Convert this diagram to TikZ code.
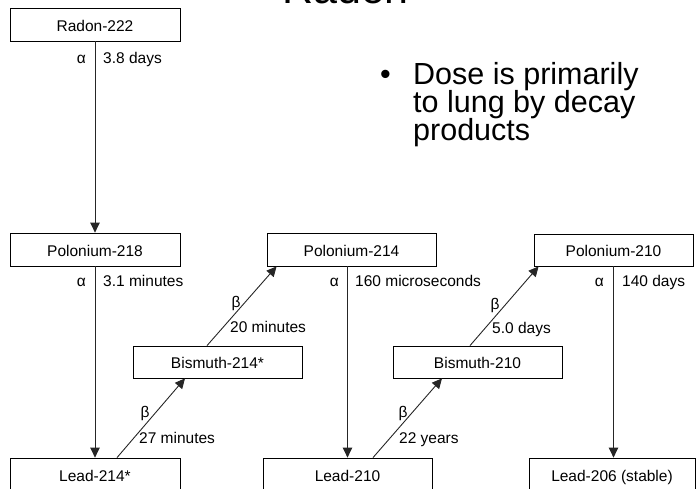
\documentclass[tikz,border=0pt]{standalone}
\usepackage{fontspec}
\setmainfont{Liberation Sans}
\usetikzlibrary{arrows.meta}
\begin{document}
\begin{tikzpicture}[x=1pt,y=-1pt,
  box/.style={draw=black,line width=0.8pt,minimum width=170pt,minimum height=33pt,inner sep=0pt,
    text height=13.5pt,text depth=0.3pt,font=\fontsize{15.5}{18}\selectfont},
  lbl/.style={inner sep=0pt,font=\fontsize{15.5}{18}\selectfont},
  decay/.style={draw=black!85,line width=0.9pt,-{Triangle[length=10pt,width=9.5pt]}},
  big/.style={inner sep=0pt,font=\fontsize{30.5}{28}\selectfont}]
\useasboundingbox (0,0) rectangle (696,489);
% title (cut off at top)
\node[inner sep=0pt,anchor=base west,font=\fontsize{43}{48}\selectfont] (title) at (282,4) {Radon};
% bullet
\node[big,anchor=base west] (bul) at (380,85) {•};
\node[big,anchor=base west] (t1) at (413,85) {Dose is primarily};
\node[big,anchor=base west] (t2) at (413,113) {to lung by decay};
\node[big,anchor=base west] (t3) at (413,140.5) {products};
% boxes
\node[box] (rn222) at (95,24.5) {Radon-222};
\node[box] (po218) at (95,249.5) {Polonium-218};
\node[box,minimum width=169pt] (po214) at (351.5,249.5) {Polonium-214};
\node[box,minimum width=159pt,minimum height=32pt] (po210) at (613.5,250) {Polonium-210};
\node[box,minimum width=169pt,minimum height=32pt] (bi214) at (217.5,362) {Bismuth-214*};
\node[box,minimum width=169pt,minimum height=32pt] (bi210) at (477.5,362) {Bismuth-210};
\node[box] (pb214) at (95,474.5) {Lead-214*};
\node[box,minimum width=169pt] (pb210) at (347.5,474.5) {Lead-210};
\node[box,minimum width=166pt] (pb206) at (612,474.5) {Lead-206 (stable)};
% vertical alpha decays
\draw[decay] (rn222.south) -- (po218.north);
\draw[decay] (po218.south) -- (pb214.north);
\draw[decay] (pb210.north |- po214.south) -- (pb210.north);
\draw[decay] (po210.south) -- (po210.south |- pb206.north);
% diagonal beta decays
\draw[decay] ([xshift=22pt]pb214.north) -- ([xshift=-32.5pt]bi214.south);
\draw[decay] ([xshift=-10.5pt]bi214.north) -- ([xshift=10pt]po214.south west);
\draw[decay] ([xshift=25.5pt]pb210.north) -- ([xshift=-35.5pt]bi210.south);
\draw[decay] ([xshift=-7.5pt]bi210.north) -- ([xshift=5pt]po210.south west);
% labels
\node[lbl,anchor=base east] (a1) at (86,63.5) {α};
\node[lbl,anchor=base west] (h1) at (103,63.5) {3.8 days};
\node[lbl,anchor=base east] (a2) at (86,286.5) {α};
\node[lbl,anchor=base west] (h2) at (103,286.5) {3.1 minutes};
\node[lbl,anchor=base east] (a3) at (339,286.5) {α};
\node[lbl,anchor=base west] (h3) at (355,286.5) {160 microseconds};
\node[lbl,anchor=base east] (a4) at (604,286.5) {α};
\node[lbl,anchor=base west] (h4) at (622,286.5) {140 days};
\node[lbl] (b1) at (236,303) {β};
\node[lbl,anchor=base west] (h5) at (230,332.5) {20 minutes};
\node[lbl] (b2) at (145,413) {β};
\node[lbl,anchor=base west] (h6) at (139,443.5) {27 minutes};
\node[lbl] (b3) at (495,305) {β};
\node[lbl,anchor=base west] (h7) at (492,333) {5.0 days};
\node[lbl] (b4) at (403,413) {β};
\node[lbl,anchor=base west] (h8) at (399,443.5) {22 years};
\end{tikzpicture}
\end{document}
